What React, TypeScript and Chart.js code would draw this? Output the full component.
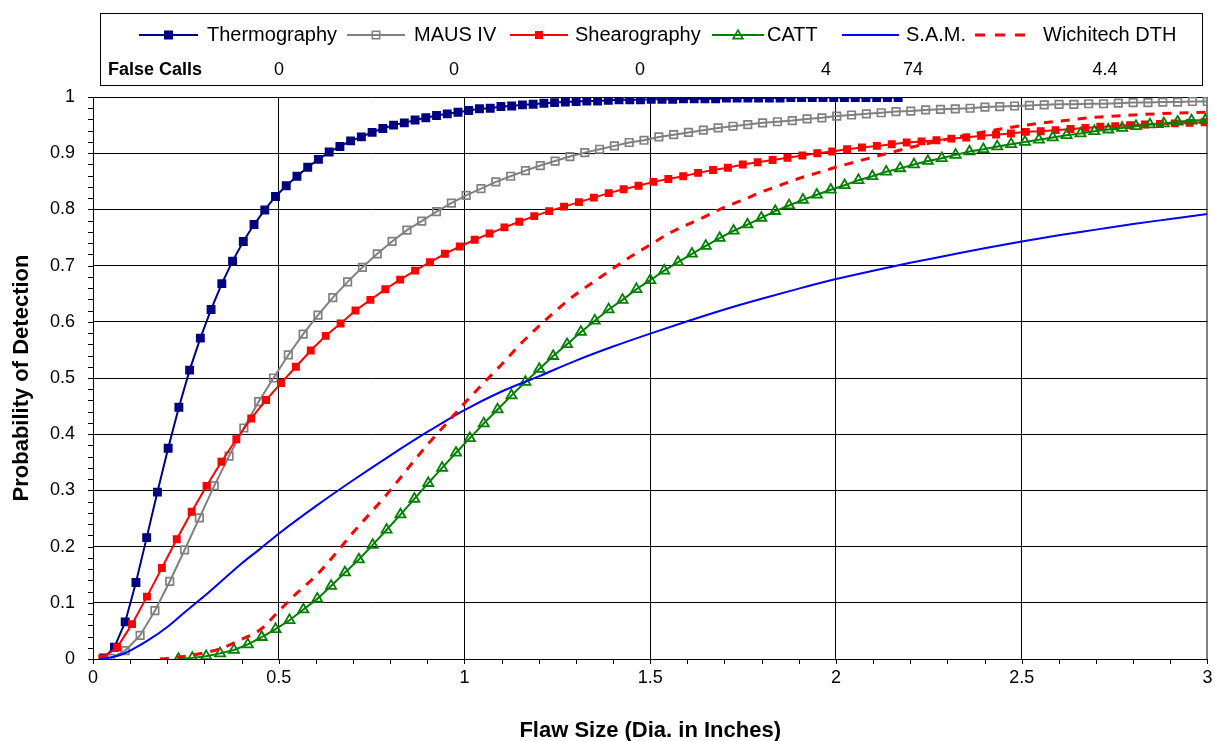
import React, { useEffect, useRef } from 'react';
import { Chart, registerables } from 'chart.js';

Chart.register(...registerables);

const FONT = "Arial, 'Liberation Sans', Helvetica, sans-serif";

const SERIES_NAMES = ['Thermography', 'MAUS IV', 'Shearography', 'CATT', 'S.A.M.', 'Wichitech DTH'];
const FALSE_CALLS = ['0', '0', '0', '4', '74', '4.4'];
const FALSE_CALLS_LABEL = 'False Calls';
const X_TITLE = 'Flaw Size (Dia. in Inches)';
const Y_TITLE = 'Probability of Detection';

// sample grids (x) of the marker series: start + step
const THERMO_X0 = 0.0289, THERMO_DX = 0.0289;
const THERMO_Y = [
  0.002, 0.021, 0.066, 0.136, 0.216, 0.297, 0.375, 0.448, 0.514, 0.571,
  0.622, 0.668, 0.708, 0.743, 0.773, 0.799, 0.823, 0.842, 0.859, 0.875,
  0.889, 0.902, 0.912, 0.922, 0.929, 0.937, 0.944, 0.950, 0.954, 0.959,
  0.963, 0.967, 0.970, 0.973, 0.976, 0.979, 0.980, 0.983, 0.984, 0.986,
  0.987, 0.989, 0.990, 0.991, 0.992, 0.993, 0.993, 0.994, 0.995, 0.995,
  0.995, 0.996, 0.996, 0.996, 0.997, 0.997, 0.997, 0.997, 0.998, 0.998,
  0.998, 0.998, 0.998, 0.998, 0.999, 0.999, 0.999, 0.999, 0.999, 0.999,
  0.999, 0.999, 0.999, 0.999, 0.999,
];

const MAUS_X0 = 0.047, MAUS_DX = 0.0399;
const MAUS_Y = [
  0.001, 0.015, 0.042, 0.086, 0.138, 0.194, 0.251, 0.308, 0.361, 0.411,
  0.458, 0.500, 0.541, 0.578, 0.612, 0.643, 0.671, 0.697, 0.721, 0.743,
  0.763, 0.779, 0.796, 0.811, 0.825, 0.837, 0.849, 0.859, 0.869, 0.878,
  0.886, 0.894, 0.901, 0.907, 0.913, 0.919, 0.923, 0.929, 0.933, 0.937,
  0.941, 0.945, 0.948, 0.951, 0.954, 0.956, 0.958, 0.961, 0.963, 0.966,
  0.968, 0.970, 0.972, 0.974, 0.975, 0.977, 0.978, 0.979, 0.980, 0.982,
  0.983, 0.984, 0.985, 0.986, 0.987, 0.987, 0.988, 0.988, 0.989, 0.990,
  0.990, 0.991, 0.991, 0.992, 0.992,
];

const SHEAR_X0 = 0.025, SHEAR_DX = 0.0401;
const SHEAR_Y = [
  0.001, 0.021, 0.062, 0.111, 0.162, 0.213, 0.262, 0.308, 0.351, 0.391,
  0.428, 0.461, 0.491, 0.520, 0.549, 0.575, 0.597, 0.620, 0.639, 0.658,
  0.675, 0.691, 0.706, 0.721, 0.734, 0.746, 0.757, 0.768, 0.778, 0.788,
  0.797, 0.805, 0.813, 0.821, 0.829, 0.836, 0.842, 0.849, 0.854, 0.859,
  0.865, 0.870, 0.874, 0.880, 0.884, 0.888, 0.892, 0.896, 0.900, 0.903,
  0.907, 0.910, 0.913, 0.916, 0.919, 0.921, 0.923, 0.926, 0.928, 0.931,
  0.933, 0.935, 0.938, 0.939, 0.941, 0.943, 0.945, 0.947, 0.948, 0.950,
  0.951, 0.952, 0.953, 0.954, 0.955,
];

const CATT_X0 = 0.23, CATT_DX = 0.03736;
const CATT_Y = [
  0.000, 0.002, 0.005, 0.010, 0.016, 0.026, 0.039, 0.053, 0.069, 0.088,
  0.107, 0.130, 0.154, 0.177, 0.203, 0.230, 0.257, 0.285, 0.313, 0.340,
  0.367, 0.393, 0.419, 0.444, 0.469, 0.493, 0.516, 0.539, 0.560, 0.582,
  0.602, 0.622, 0.639, 0.658, 0.674, 0.691, 0.706, 0.721, 0.735, 0.749,
  0.762, 0.773, 0.785, 0.797, 0.807, 0.817, 0.826, 0.835, 0.843, 0.852,
  0.859, 0.867, 0.873, 0.880, 0.886, 0.891, 0.897, 0.903, 0.907, 0.912,
  0.916, 0.920, 0.924, 0.928, 0.932, 0.935, 0.939, 0.942, 0.945, 0.948,
  0.951, 0.953, 0.956, 0.958, 0.959,
];

const SAM_X = [
  0.02, 0.05, 0.08, 0.1, 0.15, 0.2, 0.25, 0.3, 0.35, 0.4, 0.45, 0.5,
  0.6, 0.7, 0.8, 0.9, 1.0, 1.1, 1.2, 1.3, 1.4, 1.5, 1.6, 1.7, 1.8, 1.9,
  2.0, 2.1, 2.2, 2.3, 2.4, 2.5, 2.6, 2.7, 2.8, 2.9, 3.0,
];
const SAM_Y = [
  0.0, 0.003, 0.009, 0.015, 0.034, 0.057, 0.085, 0.112, 0.141, 0.170, 0.196, 0.223,
  0.272, 0.318, 0.362, 0.404, 0.443, 0.476, 0.503, 0.531, 0.556, 0.579, 0.601, 0.622, 0.641, 0.659,
  0.676, 0.691, 0.705, 0.718, 0.731, 0.743, 0.754, 0.764, 0.774, 0.783, 0.792,
];

const DTH_X = [
  0.18, 0.2, 0.25, 0.3, 0.35, 0.4, 0.45, 0.5, 0.55, 0.6, 0.65, 0.7, 0.75, 0.8,
  0.85, 0.9, 0.95, 1.0, 1.05, 1.1, 1.15, 1.2, 1.25, 1.3, 1.35, 1.4, 1.45, 1.5,
  1.55, 1.6, 1.65, 1.7, 1.75, 1.8, 1.85, 1.9, 1.95, 2.0, 2.1, 2.2, 2.3, 2.4,
  2.5, 2.6, 2.7, 2.8, 2.9, 3.0,
];
const DTH_Y = [
  0.0, 0.001, 0.005, 0.011, 0.020, 0.035, 0.052, 0.085, 0.118, 0.148, 0.185, 0.225, 0.262, 0.300,
  0.341, 0.381, 0.418, 0.455, 0.490, 0.524, 0.560, 0.592, 0.622, 0.649, 0.672, 0.695, 0.717, 0.737,
  0.757, 0.773, 0.788, 0.804, 0.817, 0.831, 0.843, 0.855, 0.865, 0.875, 0.893, 0.910, 0.925, 0.938,
  0.949, 0.957, 0.964, 0.968, 0.971, 0.973,
];

const COLORS = ['#000080', '#808080', '#FF0000', '#008000', '#0000FF', '#FF0000'];

function gridPoints(x0: number, dx: number, ys: number[]) {
  return ys.map((v, i) => ({ x: x0 + dx * i, y: v }));
}
function pairPoints(xs: number[], ys: number[]) {
  return ys.map((v, i) => ({ x: xs[i], y: v }));
}
const fmt = (v: number) => String(Math.round(v * 100) / 100);

function drawMarker(ctx: CanvasRenderingContext2D, kind: number, cx: number, cy: number) {
  ctx.save();
  if (kind === 0) {
    ctx.fillStyle = COLORS[0];
    ctx.fillRect(cx - 4.5, cy - 4.5, 9, 9);
  } else if (kind === 1) {
    ctx.strokeStyle = COLORS[1];
    ctx.lineWidth = 1.6;
    ctx.strokeRect(cx - 3.7, cy - 3.7, 7.4, 7.4);
  } else if (kind === 2) {
    ctx.fillStyle = COLORS[2];
    ctx.fillRect(cx - 4, cy - 4, 8, 8);
  } else if (kind === 3) {
    ctx.strokeStyle = COLORS[3];
    ctx.lineWidth = 1.7;
    ctx.beginPath();
    ctx.moveTo(cx, cy - 4.8);
    ctx.lineTo(cx + 4.8, cy + 3.6);
    ctx.lineTo(cx - 4.8, cy + 3.6);
    ctx.closePath();
    ctx.stroke();
  }
  ctx.restore();
}

const decorPlugin = {
  id: 'decor',
  afterDraw(chart: any) {
    const { ctx, chartArea: a } = chart;
    const xs = chart.scales.x;
    const ys = chart.scales.y;
    ctx.save();
    // minor/major ticks
    ctx.strokeStyle = '#000';
    ctx.lineWidth = 1;
    ctx.beginPath();
    for (let k = 0; k <= 50; k++) {
      const py = Math.round(ys.getPixelForValue(k / 50)) + 0.5;
      ctx.moveTo(a.left - 5, py);
      ctx.lineTo(a.left, py);
    }
    for (let k = 0; k <= 30; k++) {
      const px = Math.round(xs.getPixelForValue(k / 10)) + 0.5;
      ctx.moveTo(px, a.bottom);
      ctx.lineTo(px, a.bottom + 5);
    }
    ctx.stroke();

    // axis titles
    ctx.fillStyle = '#000';
    ctx.font = `bold 22px ${FONT}`;
    ctx.textAlign = 'center';
    ctx.textBaseline = 'middle';
    ctx.fillText(X_TITLE, (a.left + a.right) / 2, 731);
    ctx.save();
    ctx.translate(22, (a.top + a.bottom) / 2);
    ctx.rotate(-Math.PI / 2);
    ctx.fillText(Y_TITLE, 0, 0);
    ctx.restore();

    // legend box
    ctx.strokeStyle = '#000';
    ctx.lineWidth = 1;
    ctx.strokeRect(100.5, 13.5, 1102, 72);
    const rowY = 35;
    const items = [
      { x1: 139, x2: 198, tx: 207 },
      { x1: 347, x2: 405, tx: 414 },
      { x1: 510, x2: 568, tx: 575 },
      { x1: 712, x2: 764, tx: 767 },
      { x1: 842, x2: 899, tx: 906 },
      { x1: 975, x2: 1025, tx: 1043 },
    ];
    ctx.font = `20px ${FONT}`;
    ctx.textAlign = 'left';
    ctx.textBaseline = 'middle';
    items.forEach((it, i) => {
      ctx.save();
      ctx.strokeStyle = COLORS[i];
      ctx.lineWidth = i === 5 ? 3 : 2;
      if (i === 5) ctx.setLineDash([10, 10]);
      ctx.beginPath();
      ctx.moveTo(it.x1, rowY);
      ctx.lineTo(it.x2, rowY);
      ctx.stroke();
      ctx.restore();
      if (i < 4) drawMarker(ctx, i, (it.x1 + it.x2) / 2, rowY);
      ctx.fillStyle = '#000';
      ctx.fillText(SERIES_NAMES[i], it.tx, rowY);
    });
    // false calls row
    const row2 = 70;
    ctx.font = `bold 18px ${FONT}`;
    ctx.fillText(FALSE_CALLS_LABEL, 108, row2);
    ctx.font = `18px ${FONT}`;
    ctx.textAlign = 'center';
    const fcX = [279, 454, 640, 826, 913, 1105];
    FALSE_CALLS.forEach((v, i) => ctx.fillText(v, fcX[i], row2));
    ctx.restore();
  },
};

export default function App() {
  const ref = useRef<HTMLCanvasElement | null>(null);
  useEffect(() => {
    const canvas = ref.current;
    if (!canvas) return;
    const mk = (
      i: number,
      data: { x: number; y: number }[],
      extra: any
    ) => ({
      label: SERIES_NAMES[i],
      data,
      borderColor: COLORS[i],
      backgroundColor: COLORS[i],
      borderWidth: 2,
      tension: 0,
      order: 6 - i,
      ...extra,
    });
    const chart = new Chart(canvas, {
      type: 'line',
      data: {
        datasets: [
          mk(0, gridPoints(THERMO_X0, THERMO_DX, THERMO_Y), {
            pointStyle: 'rect', pointRadius: 6.3, pointBackgroundColor: COLORS[0], pointBorderWidth: 0,
          }),
          mk(1, gridPoints(MAUS_X0, MAUS_DX, MAUS_Y), {
            pointStyle: 'rect', pointRadius: 5.3, pointBackgroundColor: 'rgba(0,0,0,0)', pointBorderColor: COLORS[1], pointBorderWidth: 1.7,
          }),
          mk(2, gridPoints(SHEAR_X0, SHEAR_DX, SHEAR_Y), {
            pointStyle: 'rect', pointRadius: 5.6, pointBackgroundColor: COLORS[2], pointBorderWidth: 0,
          }),
          mk(3, gridPoints(CATT_X0, CATT_DX, CATT_Y), {
            pointStyle: 'triangle', pointRadius: 5.8, pointBackgroundColor: 'rgba(0,0,0,0)', pointBorderColor: COLORS[3], pointBorderWidth: 1.8,
          }),
          mk(4, pairPoints(SAM_X, SAM_Y), {
            pointRadius: 0, cubicInterpolationMode: 'monotone',
          }),
          mk(5, pairPoints(DTH_X, DTH_Y), {
            pointRadius: 0, borderWidth: 3, borderDash: [9, 8], cubicInterpolationMode: 'monotone',
          }),
        ],
      },
      options: {
        responsive: false,
        animation: false,
        devicePixelRatio: 1,
        layout: { padding: { top: 97, right: 6, left: 0, bottom: 0 } },
        plugins: { legend: { display: false }, tooltip: { enabled: false }, title: { display: false } },
        scales: {
          x: {
            type: 'linear',
            min: 0,
            max: 3,
            afterFit: (s: any) => { s.height = 82; s.paddingLeft = 0; s.paddingRight = 0; },
            ticks: {
              stepSize: 0.5, color: '#000', font: { family: FONT, size: 18 }, padding: 8, maxRotation: 0,
              callback: (v: any) => fmt(Number(v)),
            },
            grid: {
              drawTicks: false,
              color: (c: any) => (c.tick && c.tick.value === 3 ? '#808080' : '#000'),
              lineWidth: (c: any) => (c.tick && c.tick.value === 3 ? 2 : 1),
            },
            border: { color: '#000', width: 1 },
          },
          y: {
            type: 'linear',
            min: 0,
            max: 1,
            afterFit: (s: any) => { s.width = 93; s.paddingTop = 0; s.paddingBottom = 0; },
            ticks: {
              stepSize: 0.1, color: '#000', font: { family: FONT, size: 18 }, padding: 18,
              callback: (v: any) => fmt(Number(v)),
            },
            grid: { drawTicks: false, color: '#000', lineWidth: 1 },
            border: { color: '#000', width: 1 },
          },
        },
      },
      plugins: [decorPlugin],
    } as any);
    return () => chart.destroy();
  }, []);
  return (
    <div style={{ position: 'fixed', left: 0, top: 0, width: 1215, height: 741, background: '#fff' }}>
      <canvas ref={ref} width={1215} height={741} style={{ display: 'block' }} />
    </div>
  );
}
